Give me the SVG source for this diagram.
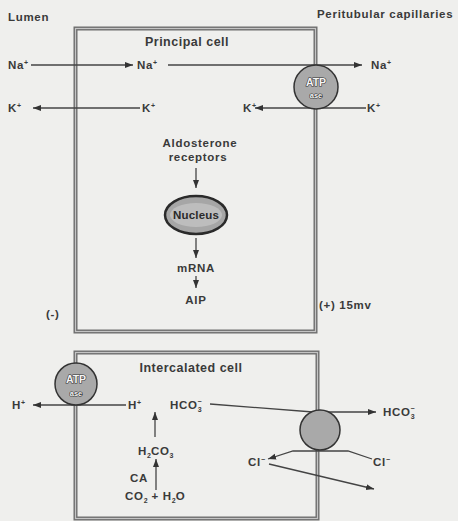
<svg xmlns="http://www.w3.org/2000/svg" width="458" height="521" viewBox="0 0 458 521">
<defs>
<style>
.t{font-family:"Liberation Sans",Arial,sans-serif;font-size:11.5px;font-weight:bold;fill:#3a3a3a;letter-spacing:0.7px}
.h{font-size:12.5px;letter-spacing:0.5px}
.m{text-anchor:middle}
.s{font-size:7px;letter-spacing:0}
.ln{stroke:#444;stroke-width:1.3;fill:none}
.bo{fill:none;stroke:#6e6e6e;stroke-width:4}
.bi{fill:none;stroke:#c4c4c4;stroke-width:1.2}
.pump{fill:#a9a9a9;stroke:#333;stroke-width:1.5}
.pt{font-family:"Liberation Sans",Arial,sans-serif;font-weight:bold;fill:#f6f6f6;stroke:#333;stroke-width:1.2;paint-order:stroke;text-anchor:middle}
</style>
<marker id="ar" markerUnits="userSpaceOnUse" markerWidth="9" markerHeight="7" refX="8" refY="3.5" orient="auto">
<path d="M0,0.5 L8,3.5 L0,6.5 z" fill="#333"/>
</marker>
</defs>
<rect width="458" height="521" fill="#efefed"/>
<text class="t" x="8" y="21">Lumen</text>
<text class="t" x="317" y="18">Peritubular capillaries</text>

<g id="principal-cell">
<rect class="bo" x="75.5" y="28.5" width="240" height="303"/>
<rect class="bi" x="75.5" y="28.5" width="240" height="303"/>
<text class="t h m" x="187" y="46">Principal cell</text>
</g>

<g id="intercalated-cell">
<rect class="bo" x="75.5" y="352.5" width="242" height="166"/>
<rect class="bi" x="75.5" y="352.5" width="242" height="166"/>
<text class="t h m" x="191" y="372">Intercalated cell</text>
</g>

<g id="connectors">
<line class="ln" x1="31" y1="65" x2="133" y2="65" marker-end="url(#ar)"/>
<line class="ln" x1="168" y1="65" x2="362" y2="65" marker-end="url(#ar)"/>
<line class="ln" x1="140" y1="108" x2="33" y2="108" marker-end="url(#ar)"/>
<line class="ln" x1="366" y1="108" x2="255" y2="108" marker-end="url(#ar)"/>
<line class="ln" x1="196" y1="168" x2="196" y2="188" marker-end="url(#ar)"/>
<line class="ln" x1="196" y1="238" x2="196" y2="258" marker-end="url(#ar)"/>
<line class="ln" x1="196" y1="276" x2="196" y2="288" marker-end="url(#ar)"/>
<line class="ln" x1="126" y1="405" x2="33" y2="405" marker-end="url(#ar)"/>
<polyline class="ln" points="210,404 313,412 376,412" marker-end="url(#ar)"/>
<line class="ln" x1="155" y1="437" x2="155" y2="412" marker-end="url(#ar)"/>
<line class="ln" x1="156" y1="490" x2="156" y2="459" marker-end="url(#ar)"/>
<polyline class="ln" points="372,459 348,451 293,451 268,459" marker-end="url(#ar)"/>
<line class="ln" x1="269" y1="464" x2="374" y2="489" marker-end="url(#ar)"/>
</g>

<g id="atpase-principal">
<circle class="pump" cx="316" cy="87" r="22"/>
<text class="pt" x="316" y="86" font-size="10.5">ATP</text>
<text class="pt" x="316" y="98" font-size="7.5">ase</text>
</g>

<g id="atpase-intercalated">
<circle class="pump" cx="76" cy="384" r="21"/>
<text class="pt" x="76" y="383" font-size="10.5">ATP</text>
<text class="pt" x="76" y="396" font-size="7.5">ase</text>
</g>

<g id="exchanger">
<circle class="pump" cx="320" cy="430" r="20"/>
</g>

<g id="nucleus">
<ellipse cx="196" cy="215" rx="31" ry="19" fill="#a6a6a6" stroke="#2a2a2a" stroke-width="2.5"/>
<ellipse cx="196" cy="215" rx="26" ry="12" fill="#bdbdbd"/>
<text class="t m" x="196" y="219" style="fill:#2a2a2a;letter-spacing:0.2px">Nucleus</text>
</g>

<g id="labels">
<text class="t" x="8" y="69">Na<tspan class="s" dy="-4">+</tspan></text>
<text class="t" x="137" y="69">Na<tspan class="s" dy="-4">+</tspan></text>
<text class="t" x="371" y="69">Na<tspan class="s" dy="-4">+</tspan></text>
<text class="t" x="8" y="112">K<tspan class="s" dy="-4">+</tspan></text>
<text class="t" x="142" y="112">K<tspan class="s" dy="-4">+</tspan></text>
<text class="t" x="243" y="112">K<tspan class="s" dy="-4">+</tspan></text>
<text class="t" x="367" y="112">K<tspan class="s" dy="-4">+</tspan></text>
<text class="t m" x="200" y="147">Aldosterone</text>
<text class="t m" x="198" y="161">receptors</text>
<text class="t m" x="196" y="272">mRNA</text>
<text class="t m" x="196" y="304">AIP</text>
<text class="t" x="46" y="318">(-)</text>
<text class="t" x="319" y="309">(+) 15mv</text>
<text class="t" x="12" y="409">H<tspan class="s" dy="-4">+</tspan></text>
<text class="t" x="128" y="409">H<tspan class="s" dy="-4">+</tspan></text>
<text class="t" x="170" y="409">HCO<tspan class="s" dy="3">3</tspan><tspan class="s" dx="-4" dy="-8">−</tspan></text>
<text class="t" x="383" y="416">HCO<tspan class="s" dy="3">3</tspan><tspan class="s" dx="-4" dy="-8">−</tspan></text>
<text class="t" x="138" y="455">H<tspan class="s" dy="3">2</tspan><tspan dy="-3">CO</tspan><tspan class="s" dy="3">3</tspan></text>
<text class="t" x="130" y="482">CA</text>
<text class="t" x="125" y="500">CO<tspan class="s" dy="3">2</tspan><tspan dy="-3"> + H</tspan><tspan class="s" dy="3">2</tspan><tspan dy="-3">O</tspan></text>
<text class="t" x="248" y="466">Cl<tspan class="s" dy="-4">−</tspan></text>
<text class="t" x="373" y="466">Cl<tspan class="s" dy="-4">−</tspan></text>
</g>
</svg>
